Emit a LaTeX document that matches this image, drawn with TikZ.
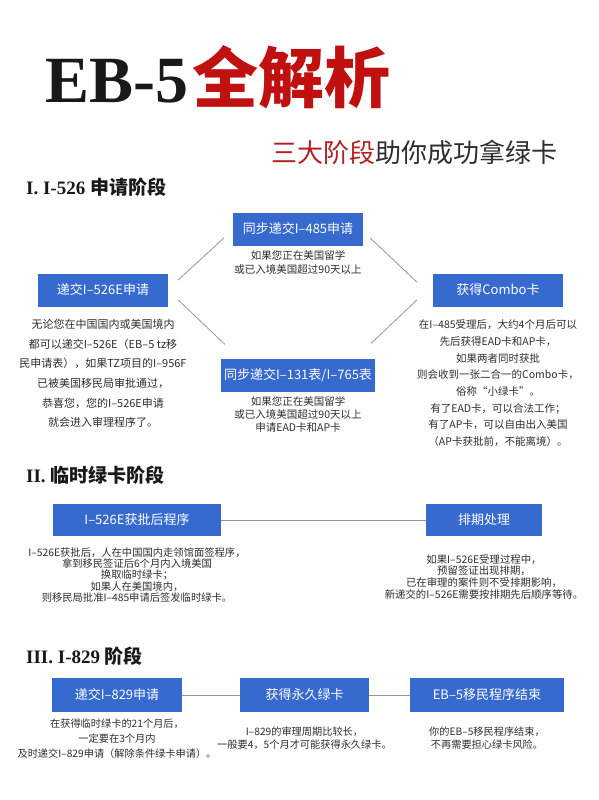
\documentclass[tikz,border=0pt]{standalone}
\usepackage{fontspec}
\setmainfont{Liberation Serif}
\newfontfamily\cjk{Noto Sans CJK SC}
\usepackage{xcolor}
\usepackage{tikz}
\usetikzlibrary{positioning}

\definecolor{boxblue}{RGB}{55,106,206}
\definecolor{titlered}{RGB}{192,16,16}
\definecolor{subred}{RGB}{178,34,34}
\definecolor{bodygray}{RGB}{45,45,45}
\definecolor{linegray}{RGB}{150,150,150}

\begin{document}
\begin{tikzpicture}[x=1pt, y=-1pt, node distance=10pt,
    box/.style={rectangle, fill=boxblue, text=white, minimum height=33pt, inner sep=0pt, font=\cjk\fontsize{13}{13}\selectfont},
    note/.style={align=center, inner sep=0pt, text=bodygray, font=\cjk\fontsize{10.5}{14}\selectfont},
    head/.style={anchor=west, inner sep=0pt, text=black!90, font=\bfseries\fontsize{19}{19}\selectfont},
    link/.style={draw=linegray, line width=0.8pt}]

    \useasboundingbox (0,0) rectangle (599,800);

    % title
    \node [anchor=base west, inner sep=0pt, text=black!90, font=\bfseries\fontsize{66}{66}\selectfont] (title) at (45,102) {EB-5\hspace{4pt}{\cjk\color{titlered}全解析}};
    \node [anchor=east, inner sep=0pt, text=bodygray, font=\cjk\fontsize{26}{26}\selectfont] (subtitle) at (558,152) {{\color{subred}三大阶段}助你成功拿绿卡};

    % I. I-526
    \node [head] (sec1) at (26,187) {I. I-526 {\cjk 申请阶段}};

    \node [box, minimum width=130pt] (i526) at (103,290) {递交I–526E申请};
    \node [box, minimum width=130pt] (i485) at (298,229) {同步递交I–485申请};
    \node [box, minimum width=154pt] (i131) at (298,375) {同步递交I–131表/I–765表};
    \node [box, minimum width=130pt] (combo) at (498,290) {获得Combo卡};

    \node [note, below=12.5pt of i526, font=\cjk\fontsize{11}{19.6}\selectfont] (i526note) {无论您在中国国内或美国境内\\都可以递交I–526E（EB–5 tz移\\民申请表），如果TZ项目的I–956F\\已被美国移民局审批通过，\\恭喜您，您的I–526E申请\\就会进入审理程序了。};
    \node [note, below=5pt of i485] (i485note) {如果您正在美国留学\\或已入境美国超过90天以上};
    \node [note, below=5pt of i131, font=\cjk\fontsize{10.5}{13}\selectfont] (i131note) {如果您正在美国留学\\或已入境美国超过90天以上\\申请EAD卡和AP卡};
    \node [note, below=13pt of combo, font=\cjk\fontsize{10.5}{16.7}\selectfont] (combonote) {在I–485受理后，大约4个月后可以\\先后获得EAD卡和AP卡，\\如果两者同时获批\\则会收到一张二合一的Combo卡，\\俗称“小绿卡”。\\有了EAD卡，可以合法工作；\\有了AP卡，可以自由出入美国\\（AP卡获批前，不能离境）。};

    \draw [link] ([shift={(10,-10)}]i526.east) -- ([shift={(-9,9)}]i485.west);
    \draw [link] ([shift={(10,10)}]i526.east) -- ([shift={(4,-14)}]i131.north west);
    \draw [link] ([shift={(7,9)}]i485.east) -- ([shift={(-16,-8)}]combo.west);
    \draw [link] ([shift={(-4,-15)}]i131.north east) -- ([shift={(-16,10)}]combo.west);

    % II. conditional green card
    \node [head] (sec2) at (26,475) {II. {\cjk 临时绿卡阶段}};

    \node [box, minimum width=168pt, minimum height=32pt] (approved) at (137,520) {I–526E获批后程序};
    \node [box, minimum width=116pt, minimum height=32pt] (backlog) at (484,520) {排期处理};

    \node [note, below=11pt of approved, font=\cjk\fontsize{10.3}{11.4}\selectfont] (approvednote) {I–526E获批后，人在中国国内走领馆面签程序，\\拿到移民签证后6个月内入境美国\\换取临时绿卡；\\如果人在美国境内，\\则移民局批准I–485申请后签发临时绿卡。};
    \node [note, below=18pt of backlog, font=\cjk\fontsize{10.4}{11.7}\selectfont] (backlognote) {如果I–526E受理过程中，\\预留签证出现排期，\\已在审理的案件则不受排期影响，\\新递交的I–526E需要按排期先后顺序等待。};

    \draw [link] (approved) -- (backlog);

    % III. I-829
    \node [head] (sec3) at (26,656) {III. I-829 {\cjk 阶段}};

    \node [box, minimum width=130pt, minimum height=34pt] (i829) at (117,695) {递交I–829申请};
    \node [box, minimum width=129pt, minimum height=34pt] (perm) at (304.5,695) {获得永久绿卡};
    \node [box, minimum width=154pt, minimum height=34pt] (done) at (487,695) {EB–5移民程序结束};

    \node [note, below=6pt of i829, font=\cjk\fontsize{10.2}{15}\selectfont] (i829note) {在获得临时绿卡的21个月后，\\一定要在3个月内\\及时递交I–829申请（解除条件绿卡申请）。};
    \node [note, below=14pt of perm, font=\cjk\fontsize{10.2}{13}\selectfont] (permnote) {I–829的审理周期比较长，\\一般要4，5个月才可能获得永久绿卡。};
    \node [note, below=14pt of done, font=\cjk\fontsize{10.2}{13}\selectfont] (donenote) {你的EB–5移民程序结束，\\不再需要担心绿卡风险。};

    \draw [link] (i829) -- (perm);
    \draw [link] (perm) -- (done);
\end{tikzpicture}
\end{document}
